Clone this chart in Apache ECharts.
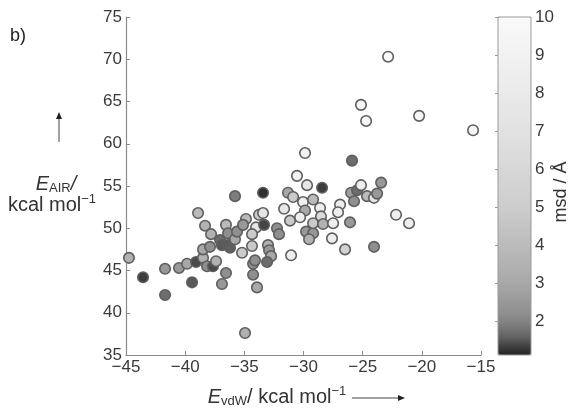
<!DOCTYPE html>
<html>
<head>
<meta charset="utf-8">
<script src="https://cdn.jsdelivr.net/npm/echarts@6/dist/echarts.min.js"></script>
<style>
  html, body { margin: 0; padding: 0; background: #fff; }
  #chart { width: 573px; height: 410px; }
</style>
</head>
<body>
<div id="chart"></div>
<script>
// van der Waals energy (kcal/mol) of each pose
const evdw = [
  -44.75, -43.56, -41.7, -41.7, -40.52, -39.84, -39.42, -39.08, -38.49, -38.15,
  -37.65, -37.39, -38.49, -37.9, -38.91, -38.32, -37.81, -37.05, -36.55, -36.38,
  -36.89, -36.38, -36.21, -35.79, -35.62, -35.79, -36.55, -36.89, -35.19, -34.94,
  -34.86, -35.11, -34.35, -34.26, -34.1, -34.26, -33.93, -34.01, -34.35, -33.76,
  -33.42, -33.42, -33.33, -33.0, -32.91, -32.74, -33.08, -32.24, -32.07, -31.64,
  -31.31, -30.88, -31.14, -31.05, -30.55, -29.7, -30.04, -29.87, -30.29, -29.78,
  -29.19, -29.53, -29.19, -28.43, -28.6, -28.52, -29.19, -28.35, -27.5, -26.91,
  -27.08, -27.59, -26.49, -26.07, -25.98, -25.47, -25.73, -25.14, -24.63, -24.04,
  -23.78, -23.44, -22.18, -21.08, -24.04, -22.85, -25.14, -24.71, -20.23, -15.67,
  -29.87, -25.9
];
// AIR energy (kcal/mol) of each pose
const eair = [
  46.5, 44.2, 45.2, 42.1, 45.3, 45.8, 43.6, 46.0, 46.5, 45.5,
  45.5, 46.1, 47.5, 47.8, 51.8, 50.3, 49.3, 48.6, 50.4, 49.4,
  48.0, 48.0, 47.7, 48.7, 49.6, 53.8, 44.7, 43.4, 47.1, 37.6,
  51.1, 50.4, 47.9, 45.8, 46.2, 44.5, 43.0, 50.1, 49.3, 51.6,
  51.8, 54.2, 50.4, 48.0, 47.4, 46.7, 46.0, 50.0, 49.3, 52.3,
  54.2, 53.7, 50.9, 46.8, 56.2, 55.1, 53.1, 52.1, 51.3, 49.6,
  49.4, 48.7, 53.4, 54.8, 52.4, 51.4, 50.6, 50.5, 50.6, 52.8,
  51.9, 48.8, 47.5, 50.7, 54.2, 54.5, 53.2, 55.1, 53.8, 53.6,
  54.1, 55.4, 51.6, 50.6, 47.8, 70.3, 64.6, 62.7, 63.3, 61.6,
  58.9, 58.0
];
// msd (Å) of each pose, drives the grey level
const msd = [
  3.4, 1.3, 2.5, 1.7, 2.5, 3.0, 1.5, 1.4, 3.4, 2.2,
  1.4, 3.4, 3.0, 2.2, 3.9, 3.4, 3.4, 1.7, 3.9, 2.2,
  1.5, 1.5, 1.55, 3.0, 2.2, 1.9, 2.2, 2.5, 4.8, 3.4,
  3.9, 2.5, 4.8, 2.2, 2.2, 2.2, 3.0, 7.5, 4.8, 4.8,
  7.5, 1.2, 1.35, 3.4, 2.5, 3.0, 1.7, 2.2, 2.2, 7.5,
  3.0, 4.8, 4.8, 8.5, 9.0, 7.5, 8.5, 3.0, 8.5, 2.5,
  2.5, 3.4, 3.9, 1.3, 8.5, 6.3, 4.8, 3.4, 8.5, 8.5,
  8.5, 8.5, 5.5, 2.5, 2.7, 1.7, 2.2, 8.5, 3.9, 7.5,
  2.5, 2.5, 8.5, 8.5, 2.2, 10, 9.5, 9.5, 9.5, 9.5,
  9.0, 1.7
];

const xTicks = [-45, -40, -35, -30, -25, -20, -15];
const yTicks = [35, 40, 45, 50, 55, 60, 65, 70, 75];
const cbarTicks = [2, 3, 4, 5, 6, 7, 8, 9, 10];
const msdMin = 1.1, msdMax = 10;

const points = evdw.map((x, i) => [x, eair[i], msd[i]]);

// grey colour ramp: [msd, grey level]
const rampAnchors = [[1.1, 0x22], [1.6, 0x66], [2.1, 0x8c], [3.1, 0xab], [5, 0xcd], [7, 0xe2], [10, 0xfa]];
function greyAt(v) {
  for (let i = 1; i < rampAnchors.length; i++) {
    const [v0, g0] = rampAnchors[i - 1], [v1, g1] = rampAnchors[i];
    if (v <= v1) {
      const g = Math.round(g0 + (g1 - g0) * (v - v0) / (v1 - v0));
      return 'rgb(' + g + ',' + g + ',' + g + ')';
    }
  }
  return '#fafafa';
}
const rampSteps = 60;
const rampColors = [];
for (let i = 0; i <= rampSteps; i++) rampColors.push(greyAt(msdMin + (msdMax - msdMin) * i / rampSteps));

const FONT = 'Liberation Sans, Arial, sans-serif';
const TXT = '#3a3a3a';
const AX = '#8a8a8a';

const chart = echarts.init(document.getElementById('chart'), null, { renderer: 'canvas' });

const cbLeft = 498, cbTop = 17, cbW = 33, cbH = 338;

chart.setOption({
  animation: false,
  backgroundColor: '#fff',
  textStyle: { fontFamily: FONT },
  grid: [
    { left: 126, top: 17, width: 355, height: 338 },
    { left: cbLeft, top: cbTop, width: cbW, height: cbH, show: true,
      borderColor: '#9a9a9a', borderWidth: 1, backgroundColor: 'transparent', z: 5 }
  ],
  xAxis: [
    {
      gridIndex: 0, type: 'value', min: -45, max: -15, interval: 5,
      axisLine: { show: true, onZero: false, lineStyle: { color: AX, width: 1.2 } },
      axisTick: { show: true, inside: true, length: 4, lineStyle: { color: AX } },
      splitLine: { show: false },
      axisLabel: { color: TXT, fontSize: 17, fontFamily: FONT, margin: 4,
        customValues: xTicks,
        formatter: v => String(v).replace('-', '\u2212') }
    },
    { gridIndex: 1, type: 'value', min: 0, max: 1, show: false }
  ],
  yAxis: [
    {
      gridIndex: 0, type: 'value', min: 35, max: 75, interval: 5,
      axisLine: { show: true, onZero: false, lineStyle: { color: AX, width: 1.2 } },
      axisTick: { show: true, inside: true, length: 4, lineStyle: { color: AX } },
      splitLine: { show: false },
      axisLabel: { color: TXT, fontSize: 17, fontFamily: FONT, margin: 4, customValues: yTicks }
    },
    {
      gridIndex: 1, type: 'value', min: msdMin, max: msdMax, position: 'right',
      axisLine: { show: false },
      axisTick: { show: true, inside: true, length: 3, customValues: cbarTicks,
        lineStyle: { color: '#9a9a9a' } },
      splitLine: { show: false },
      axisLabel: { color: TXT, fontSize: 17, fontFamily: FONT, margin: 4, customValues: cbarTicks }
    },
    {
      gridIndex: 1, type: 'value', min: msdMin, max: msdMax, position: 'left',
      axisLine: { show: false },
      axisTick: { show: true, inside: true, length: 3, customValues: cbarTicks,
        lineStyle: { color: '#9a9a9a' } },
      splitLine: { show: false },
      axisLabel: { show: false }
    }
  ],
  visualMap: {
    type: 'continuous',
    seriesIndex: 0,
    dimension: 2,
    min: msdMin, max: msdMax,
    calculable: false,
    realtime: false,
    orient: 'vertical',
    left: cbLeft, top: cbTop,
    padding: 0,
    itemWidth: cbW, itemHeight: cbH,
    text: null,
    showLabel: false,
    inRange: { color: rampColors },
    z: 1
  },
  series: [
    {
      type: 'scatter',
      xAxisIndex: 0, yAxisIndex: 0,
      data: points,
      symbol: 'circle',
      symbolSize: 10.5,
      itemStyle: { borderColor: '#5e5e5e', borderWidth: 1.6, opacity: 1 }
    },
    { type: 'scatter', xAxisIndex: 1, yAxisIndex: 1, data: [] }
  ],
  graphic: [
    { type: 'text', left: 10, top: 27,
      style: { text: 'b)', fontSize: 18, fontFamily: FONT, fill: '#222' } },
    // y axis title with upward arrow
    { type: 'line', shape: { x1: 59, y1: 142, x2: 59, y2: 118 },
      style: { stroke: '#444', lineWidth: 1 } },
    { type: 'polygon', shape: { points: [[56, 119], [62, 119], [59, 112]] },
      style: { fill: '#222' } },
    { type: 'text', x: 56, y: 184,
      style: {
        text: '{e|E}{s|AIR}{n|/}',
        align: 'center', verticalAlign: 'middle',
        rich: {
          e: { fontSize: 20, fontStyle: 'italic', fontFamily: FONT, fill: '#333' },
          s: { fontSize: 13, fontFamily: FONT, fill: '#333', padding: [9, 0, 0, 0] },
          n: { fontSize: 20, fontStyle: 'italic', fontFamily: FONT, fill: '#333' }
        }
      } },
    { type: 'text', x: 52, y: 205,
      style: {
        text: '{t|kcal mol}{p|\u22121}',
        align: 'center', verticalAlign: 'middle',
        rich: {
          t: { fontSize: 20, fontFamily: FONT, fill: '#333' },
          p: { fontSize: 13, fontFamily: FONT, fill: '#333', padding: [0, 0, 11, 0] }
        }
      } },
    // x axis title with rightward arrow
    { type: 'text', x: 277, y: 397,
      style: {
        text: '{e|E}{s|vdW}{t|/ kcal mol}{p|\u22121}',
        align: 'center', verticalAlign: 'middle',
        rich: {
          e: { fontSize: 20, fontStyle: 'italic', fontFamily: FONT, fill: '#333' },
          s: { fontSize: 13, fontFamily: FONT, fill: '#333', padding: [9, 0, 0, 0] },
          t: { fontSize: 20, fontFamily: FONT, fill: '#333' },
          p: { fontSize: 13, fontFamily: FONT, fill: '#333', padding: [0, 0, 11, 0] }
        }
      } },
    { type: 'line', shape: { x1: 352, y1: 398, x2: 399, y2: 398 },
      style: { stroke: '#444', lineWidth: 1 } },
    { type: 'polygon', shape: { points: [[398, 395], [398, 401], [405, 398]] },
      style: { fill: '#222' } },
    // colour bar title
    { type: 'text', x: 561, y: 192, rotation: Math.PI / 2,
      style: { text: 'msd / \u00C5', fontSize: 18, fontFamily: FONT, fill: '#333',
        align: 'center', verticalAlign: 'middle' } }
  ]
});
</script>
</body>
</html>
